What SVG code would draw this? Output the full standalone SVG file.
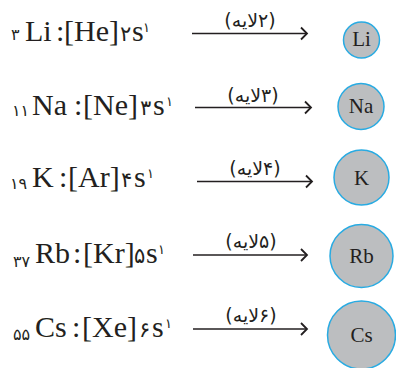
<svg xmlns="http://www.w3.org/2000/svg" width="396" height="368" viewBox="0 0 396 368">
<defs>
<marker id="arr" markerUnits="userSpaceOnUse" markerWidth="12" markerHeight="14" refX="7" refY="6" orient="auto" overflow="visible">
<path d="M1,0 L7,6 L1,12" fill="none" stroke="#231f20" stroke-width="1.8"/>
</marker>
</defs>
<style>
.f{font-family:"Liberation Serif",serif;font-size:30px;fill:#231f20}
.p{font-family:"DejaVu Sans",sans-serif;fill:#231f20}
.d{font-size:21px}
.sub{font-size:16px}
.sup{font-size:13px}
.lab{font-family:"DejaVu Sans",sans-serif;font-size:19px;fill:#231f20;text-anchor:middle}
.ln{stroke:#231f20;stroke-width:1.3;fill:none;marker-end:url(#arr)}
.c{fill:#bcbec0;stroke:#29abe2;stroke-width:1.5}
.ct{font-family:"Liberation Serif",serif;font-size:21px;fill:#231f20;text-anchor:middle}
</style>
<rect width="396" height="368" fill="#fff"/>
<g id="li-config">
<text class="p sub" x="11" y="40">۳</text>
<text class="f" x="25" y="41">Li</text>
<text class="f" x="56" y="41">:</text>
<text class="f" x="64" y="41">[He]</text>
<text class="p d" x="120" y="41">۲</text>
<text class="f" x="132" y="41">s</text>
<text class="p sup" x="143" y="32">۱</text>
</g>
<g id="na-config">
<text class="p sub" x="12" y="116">۱۱</text>
<text class="f" x="32" y="115">Na</text>
<text class="f" x="74" y="115">:</text>
<text class="f" x="83" y="115">[Ne]</text>
<text class="p d" x="140" y="115">۳</text>
<text class="f" x="153" y="115">s</text>
<text class="p sup" x="166" y="106">۱</text>
</g>
<g id="k-config">
<text class="p sub" x="10" y="189">۱۹</text>
<text class="f" x="32" y="187">K</text>
<text class="f" x="59" y="187">:</text>
<text class="f" x="68" y="187">[Ar]</text>
<text class="p d" x="121" y="187">۴</text>
<text class="f" x="134" y="187">s</text>
<text class="p sup" x="147" y="178">۱</text>
</g>
<g id="rb-config">
<text class="p sub" x="13" y="267">۳۷</text>
<text class="f" x="35" y="263">Rb</text>
<text class="f" x="73" y="263">:</text>
<text class="f" x="83" y="263">[Kr]</text>
<text class="p d" x="134" y="263">۵</text>
<text class="f" x="146" y="263">s</text>
<text class="p sup" x="158" y="254">۱</text>
</g>
<g id="cs-config">
<text class="p sub" x="13" y="340">۵۵</text>
<text class="f" x="35" y="337">Cs</text>
<text class="f" x="72" y="337">:</text>
<text class="f" x="82" y="337">[Xe]</text>
<text class="p d" x="139" y="337">۶</text>
<text class="f" x="152" y="337">s</text>
<text class="p sup" x="165" y="328">۱</text>
</g>
<g id="connectors">
<line class="ln" x1="192" y1="33.5" x2="307" y2="33.5"/>
<text class="lab" x="250" y="27" direction="rtl" unicode-bidi="embed">(۲لایه)</text>
<line class="ln" x1="195" y1="107.5" x2="311" y2="107.5"/>
<text class="lab" x="253" y="101.5" direction="rtl" unicode-bidi="embed">(۳لایه)</text>
<line class="ln" x1="197" y1="181.5" x2="312" y2="181.5"/>
<text class="lab" x="255" y="175" direction="rtl" unicode-bidi="embed">(۴لایه)</text>
<line class="ln" x1="193" y1="255" x2="307" y2="255"/>
<text class="lab" x="251" y="248" direction="rtl" unicode-bidi="embed">(۵لایه)</text>
<line class="ln" x1="193" y1="329" x2="307" y2="329"/>
<text class="lab" x="251" y="322" direction="rtl" unicode-bidi="embed">(۶لایه)</text>
</g>
<g id="li-atom"><circle class="c" cx="361.5" cy="40" r="18"/><text class="ct" x="361.5" y="46">Li</text></g>
<g id="na-atom"><circle class="c" cx="361" cy="106.5" r="23"/><text class="ct" x="361" y="113">Na</text></g>
<g id="k-atom"><circle class="c" cx="361.5" cy="177.5" r="27.5"/><text class="ct" x="361.5" y="184.5">K</text></g>
<g id="rb-atom"><circle class="c" cx="361.5" cy="256" r="31.5"/><text class="ct" x="361.5" y="262.5">Rb</text></g>
<g id="cs-atom"><circle class="c" cx="361.5" cy="335" r="34"/><text class="ct" x="361.5" y="341.5">Cs</text></g>
</svg>
